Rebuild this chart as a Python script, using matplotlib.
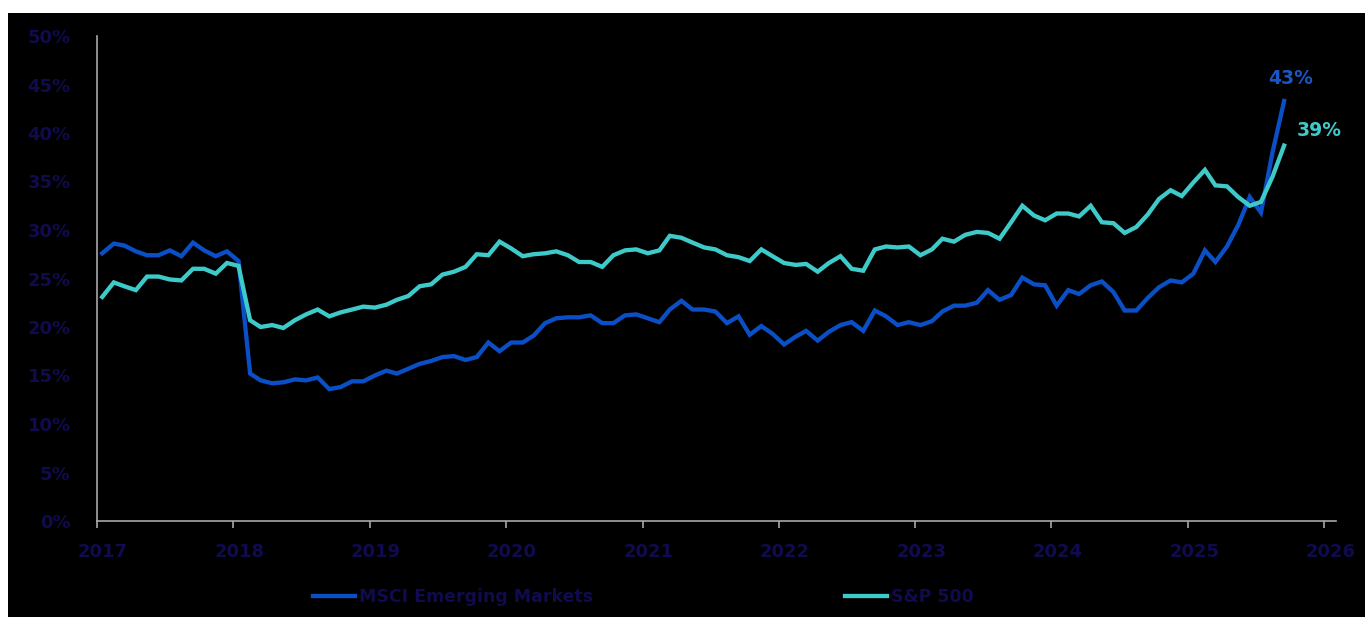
import matplotlib
matplotlib.use("Agg")
import matplotlib.pyplot as plt
import matplotlib.dates as mdates
from matplotlib.patches import Rectangle
from matplotlib.transforms import ScaledTranslation
import pandas as pd

# monthly readings, Jan 2017 - Sep 2025 (share of index, %), plotted mid-month
months = pd.date_range("2017-01-01", "2025-09-01", freq="MS") + pd.Timedelta(days=14)

msci_em = [27.6, 28.6, 28.4, 27.8, 27.4, 27.4, 27.9, 27.3, 28.7, 27.9, 27.3, 27.8,
           26.8, 15.2, 14.5, 14.2, 14.3, 14.6, 14.5, 14.8, 13.6, 13.8, 14.4, 14.4,
           15.0, 15.5, 15.2, 15.7, 16.2, 16.5, 16.9, 17.0, 16.6, 16.9, 18.4, 17.5,
           18.4, 18.4, 19.1, 20.4, 20.9, 21.0, 21.0, 21.2, 20.4, 20.4, 21.2, 21.3,
           20.9, 20.5, 21.8, 22.7, 21.8, 21.8, 21.6, 20.4, 21.1, 19.2, 20.1, 19.3,
           18.2, 19.0, 19.6, 18.6, 19.5, 20.2, 20.5, 19.6, 21.7, 21.1, 20.2, 20.5,
           20.2, 20.6, 21.6, 22.2, 22.2, 22.5, 23.8, 22.8, 23.3, 25.1, 24.4, 24.3,
           22.2, 23.8, 23.4, 24.3, 24.7, 23.6, 21.7, 21.7, 23.0, 24.1, 24.8, 24.6,
           25.5, 27.9, 26.7, 28.3, 30.5, 33.4, 31.8, 38.0, 43.3]

sp500 = [23.1, 24.6, 24.2, 23.8, 25.2, 25.2, 24.9, 24.8, 26.0, 26.0, 25.5, 26.6,
         26.3, 20.7, 20.0, 20.2, 19.9, 20.7, 21.3, 21.8, 21.1, 21.5, 21.8, 22.1,
         22.0, 22.3, 22.8, 23.2, 24.2, 24.4, 25.4, 25.7, 26.2, 27.5, 27.4, 28.8,
         28.1, 27.3, 27.5, 27.6, 27.8, 27.4, 26.7, 26.7, 26.2, 27.4, 27.9, 28.0,
         27.6, 27.9, 29.4, 29.2, 28.7, 28.2, 28.0, 27.4, 27.2, 26.8, 28.0, 27.3,
         26.6, 26.4, 26.5, 25.7, 26.6, 27.3, 26.0, 25.8, 28.0, 28.3, 28.2, 28.3,
         27.4, 28.0, 29.1, 28.8, 29.5, 29.8, 29.7, 29.1, 30.8, 32.5, 31.5, 31.0,
         31.7, 31.7, 31.4, 32.5, 30.8, 30.7, 29.7, 30.3, 31.6, 33.2, 34.1, 33.5,
         34.9, 36.2, 34.6, 34.5, 33.4, 32.5, 32.9, 35.5, 38.7]

end_labels = ["43%", "39%"]

BLUE = "#0b4fc6"
CYAN = "#3fcaca"
NAVY = "#0f0b4e"
GREY = "#a8a8a8"

W, H = 1365, 617
fig = plt.figure(figsize=(W / 100, H / 100), dpi=100)
fig.patch.set_facecolor("white")
fig.patches.append(Rectangle((8 / W, 0), 1 - 8 / W, 1 - 13 / H, transform=fig.transFigure,
                             facecolor="black", edgecolor="none", zorder=-10))

ax = fig.add_axes([97 / W, 1 - 521 / H, (1336 - 97) / W, (521 - 36) / H])
ax.set_facecolor("none")

l1, = ax.plot(months, msci_em, color=BLUE, lw=3.1, solid_joinstyle="miter")
l2, = ax.plot(months, sp500, color=CYAN, lw=3.1, solid_joinstyle="miter")

ax.annotate(end_labels[0], (months[-1], msci_em[-1]), xytext=(5, 16), textcoords="offset points",
            ha="center", va="center", color="#1a55c8", fontsize=13.5, fontweight="bold")
ax.annotate(end_labels[1], (months[-1], sp500[-1]), xytext=(25, 11), textcoords="offset points",
            ha="center", va="center", color=CYAN, fontsize=13.5, fontweight="bold")

ax.set_ylim(0, 50)
ax.set_yticks(range(0, 51, 5))
ax.set_yticklabels([f"{v}%" for v in range(0, 51, 5)])
ax.set_xlim(pd.Timestamp("2017-01-01"), pd.Timestamp("2026-02-01"))
ax.xaxis.set_major_locator(mdates.YearLocator())
ax.xaxis.set_major_formatter(mdates.DateFormatter("%Y"))

for s in ["top", "right"]:
    ax.spines[s].set_visible(False)
for s in ["left", "bottom"]:
    ax.spines[s].set_color(GREY)
    ax.spines[s].set_linewidth(1.2)

ax.tick_params(axis="y", length=0, pad=19, labelsize=13, labelcolor=NAVY)
ax.tick_params(axis="x", length=5, width=1.2, color=GREY, pad=11, labelsize=13, labelcolor=NAVY)
shift = ScaledTranslation(6 / 100, 0, fig.dpi_scale_trans)
for lbl in ax.get_xticklabels():
    lbl.set_fontweight("bold")
    lbl.set_transform(lbl.get_transform() + shift)
for lbl in ax.get_yticklabels():
    lbl.set_fontweight("bold")

for h, lab, x0 in [(l1, "MSCI Emerging Markets", 313), (l2, "S&P 500", 845)]:
    leg = fig.legend([h], [lab], loc="center left", bbox_to_anchor=(x0 / W, 1 - 597 / H),
                     frameon=False, borderaxespad=0, borderpad=0, handlelength=2.4,
                     handletextpad=0.25, prop={"size": 12.5, "weight": "bold"})
    for t in leg.get_texts():
        t.set_color(NAVY)

fig.savefig("out.png", dpi=100, facecolor=fig.get_facecolor())
